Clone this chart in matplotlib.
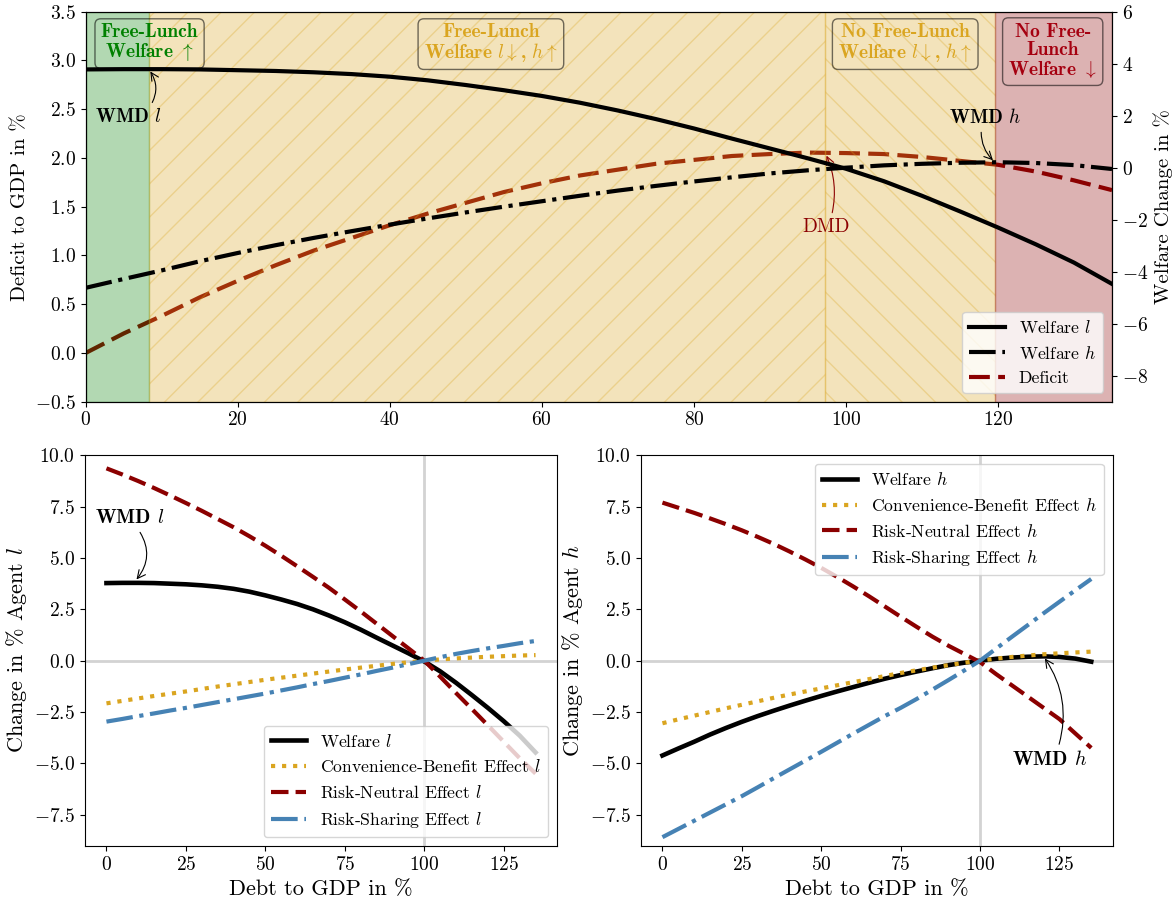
import matplotlib
matplotlib.use("Agg")
import matplotlib.pyplot as plt
from matplotlib.lines import Line2D

plt.rcParams.update({
    "font.family": "cmr10",
    "mathtext.fontset": "cm",
    "axes.formatter.use_mathtext": True,
    "font.size": 14,
    "axes.unicode_minus": True,
})

# ---------------- data ----------------
debt = [0, 5, 10, 15, 20, 25, 30, 35, 40, 45, 50, 55, 60, 65, 70, 75, 80, 85,
        90, 95, 100, 105, 110, 115, 120, 125, 130, 135]

welfare_l = [3.78, 3.79, 3.79, 3.78, 3.75, 3.72, 3.67, 3.60, 3.50, 3.36, 3.18, 2.98,
             2.76, 2.50, 2.20, 1.87, 1.51, 1.12, 0.74, 0.36, -0.04, -0.52, -1.08,
             -1.68, -2.30, -2.95, -3.65, -4.47]
welfare_h = [-4.62, -4.28, -3.95, -3.60, -3.28, -2.98, -2.70, -2.44, -2.19, -1.95,
             -1.72, -1.50, -1.29, -1.08, -0.88, -0.70, -0.53, -0.37, -0.22, -0.10,
             0.00, 0.09, 0.15, 0.19, 0.21, 0.18, 0.10, -0.05]
deficit = [0.00, 0.20, 0.38, 0.57, 0.74, 0.90, 1.05, 1.18, 1.31, 1.43, 1.54, 1.65,
           1.74, 1.82, 1.88, 1.94, 1.98, 2.02, 2.04, 2.055, 2.05, 2.04, 2.01, 1.97,
           1.93, 1.86, 1.77, 1.67]

conv_l = [-2.08, -1.96, -1.84, -1.72, -1.61, -1.50, -1.38, -1.26, -1.15, -1.04, -0.93,
          -0.83, -0.73, -0.63, -0.53, -0.43, -0.34, -0.25, -0.16, -0.08, 0.00, 0.06,
          0.11, 0.15, 0.19, 0.22, 0.25, 0.27]
rn_l = [9.37, 9.07, 8.75, 8.41, 8.05, 7.68, 7.30, 6.90, 6.50, 6.06, 5.60, 5.11, 4.60,
        4.08, 3.55, 2.98, 2.40, 1.80, 1.20, 0.60, 0.00, -0.78, -1.58, -2.36, -3.15,
        -3.95, -4.75, -5.50]
rs_l = [-2.97, -2.84, -2.70, -2.57, -2.43, -2.30, -2.16, -2.02, -1.88, -1.74, -1.60,
        -1.45, -1.30, -1.14, -0.99, -0.83, -0.67, -0.50, -0.34, -0.17, 0.00, 0.17,
        0.33, 0.47, 0.60, 0.72, 0.85, 0.96]

conv_h = [-3.05, -2.86, -2.68, -2.50, -2.32, -2.15, -1.98, -1.81, -1.65, -1.50, -1.35,
          -1.20, -1.05, -0.90, -0.75, -0.60, -0.47, -0.34, -0.22, -0.10, 0.00, 0.10,
          0.18, 0.25, 0.31, 0.36, 0.40, 0.44]
rn_h = [7.70, 7.45, 7.20, 6.93, 6.65, 6.35, 6.03, 5.69, 5.32, 4.93, 4.52, 4.08, 3.62,
        3.14, 2.64, 2.14, 1.65, 1.17, 0.73, 0.33, -0.07, -0.65, -1.20, -1.75, -2.30,
        -2.85, -3.55, -4.25]
rs_h = [-8.60, -8.20, -7.80, -7.40, -7.00, -6.60, -6.17, -5.73, -5.30, -4.87, -4.44,
        -4.00, -3.56, -3.13, -2.70, -2.30, -1.87, -1.41, -0.95, -0.48, 0.00, 0.58,
        1.16, 1.73, 2.31, 2.87, 3.43, 3.98]

wmd_l = 8.3      # welfare-maximising debt, agent l
dmd = 97.3       # deficit-maximising debt
wmd_h = 119.6    # welfare-maximising debt, agent h
debt_max = 135

# ---------------- figure ----------------
W, H = 1174, 900
fig = plt.figure(figsize=(W / 100, H / 100), dpi=100)

def rect(l, t, r, b):
    return [l / W, 1 - b / H, (r - l) / W, (b - t) / H]

ax1 = fig.add_axes(rect(85.7, 11.7, 1112, 401.7))
ax2 = ax1.twinx()

ax1.axvspan(0, wmd_l, facecolor="green", edgecolor="green", alpha=0.3, zorder=1)
ax1.axvspan(wmd_l, dmd, facecolor="goldenrod", edgecolor="goldenrod", alpha=0.3,
            hatch="/", zorder=1)
ax1.axvspan(dmd, wmd_h, facecolor="goldenrod", edgecolor="goldenrod", alpha=0.3,
            hatch="\\", zorder=1)
ax1.axvspan(wmd_h, debt_max, facecolor="darkred", edgecolor="darkred", alpha=0.3,
            zorder=1)

ax1.plot(debt, deficit, color="darkred", lw=3, ls=(0, (5, 2)), zorder=0.5)
ax2.plot(debt, welfare_l, color="black", lw=3, ls="-")
ax2.plot(debt, welfare_h, color="black", lw=3, ls="-.")

ax1.set_xlim(0, debt_max)
ax1.set_ylim(-0.5, 3.5)
ax2.set_ylim(-9, 6)
ax1.set_yticks([-0.5, 0.0, 0.5, 1.0, 1.5, 2.0, 2.5, 3.0, 3.5])
ax2.set_yticks([-8, -6, -4, -2, 0, 2, 4, 6])
ax1.set_ylabel("Deficit to GDP in %", fontsize=15)
ax2.set_ylabel("Welfare Change in %", fontsize=15)
ax1.tick_params(labelsize=14)
ax2.tick_params(labelsize=14)

handles = [Line2D([], [], color="black", lw=3, ls="-"),
           Line2D([], [], color="black", lw=3, ls="-."),
           Line2D([], [], color="darkred", lw=3, ls=(0, (5, 2)))]
ax2.legend(handles, ["Welfare $l$", "Welfare $h$", "Deficit"], loc="lower right",
           fontsize=12.7)

box = dict(boxstyle="round,pad=0.3", facecolor="none", edgecolor=(0, 0, 0, 0.55), lw=1)
lab_kw = dict(transform=ax1.get_xaxis_transform(), ha="center", va="top",
              family="cmb10", fontsize=14, linespacing=1.0, bbox=box)
ax1.text(8.4, 0.972, "Free-Lunch\nWelfare $\\uparrow$", color="green", **lab_kw)
ax1.text(53.3, 0.972, "Free-Lunch\nWelfare $l\\downarrow$, $h\\uparrow$",
         color="goldenrod", **lab_kw)
ax1.text(107.8, 0.972, "No Free-Lunch\nWelfare $l\\downarrow$, $h\\uparrow$",
         color="goldenrod", **lab_kw)
ax1.text(127.2, 0.972, "No Free-\nLunch\nWelfare $\\downarrow$", color="#a50010",
         **lab_kw)

ax2.annotate(r"$\mathbf{WMD}$ $l$", xy=(wmd_l, 3.79), xytext=(5.7, 1.96),
             ha="center", va="center", fontsize=14,
             arrowprops=dict(arrowstyle="->", color="black", lw=0.8,
                             connectionstyle="arc3,rad=0.35", relpos=(0.8, 1.0)))
ax2.annotate(r"$\mathbf{WMD}$ $h$", xy=(wmd_h, 0.21), xytext=(118.3, 1.94),
             ha="center", va="center", fontsize=14,
             arrowprops=dict(arrowstyle="->", color="black", lw=0.8,
                             connectionstyle="arc3,rad=0.25", relpos=(0.45, 0.0)))
ax1.annotate("DMD", xy=(dmd, 2.05), xytext=(97.4, 1.29), ha="center", va="center",
             fontsize=14, color="darkred",
             arrowprops=dict(arrowstyle="->", color="darkred", lw=0.8,
                             connectionstyle="arc3,rad=0.18", relpos=(0.6, 1.0)))

# ---------------- bottom panels ----------------
axl = fig.add_axes(rect(85, 455, 557, 846))
axr = fig.add_axes(rect(641, 455, 1112.7, 846))

for ax in (axl, axr):
    ax.axhline(0, color="lightgray", lw=2, zorder=0)
    ax.axvline(100, color="lightgray", lw=2, zorder=0)

axl.plot(debt, welfare_l, color="black", lw=3.3, label="Welfare $l$")
axl.plot(debt, conv_l, color="goldenrod", lw=3, ls=":", label="Convenience-Benefit Effect $l$")
axl.plot(debt, rn_l, color="darkred", lw=3, ls=(0, (4.2, 1.7)), label="Risk-Neutral Effect $l$")
axl.plot(debt, rs_l, color="steelblue", lw=3, ls="-.", label="Risk-Sharing Effect $l$")
axl.legend(loc="lower right", fontsize=12.7)

axr.plot(debt, welfare_h, color="black", lw=3.3, label="Welfare $h$")
axr.plot(debt, conv_h, color="goldenrod", lw=3, ls=":", label="Convenience-Benefit Effect $h$")
axr.plot(debt, rn_h, color="darkred", lw=3, ls=(0, (4.2, 1.7)), label="Risk-Neutral Effect $h$")
axr.plot(debt, rs_h, color="steelblue", lw=3, ls="-.", label="Risk-Sharing Effect $h$")
axr.legend(loc="upper right", fontsize=12.7)

for ax in (axl, axr):
    ax.set_ylim(-9.03, 10.02)
    ax.set_yticks([-7.5, -5.0, -2.5, 0.0, 2.5, 5.0, 7.5, 10.0])
    ax.set_xticks([0, 25, 50, 75, 100, 125])
    ax.set_xlabel("Debt to GDP in %", fontsize=16)
    ax.tick_params(labelsize=14)
axl.set_ylabel("Change in % Agent $l$", fontsize=16)
axr.set_ylabel("Change in % Agent $h$", fontsize=16)

axl.annotate(r"$\mathbf{WMD}$ $l$", xy=(8.9, 3.85), xytext=(7.3, 6.94),
             ha="center", va="center", fontsize=14.5,
             arrowprops=dict(arrowstyle="->", color="black", lw=0.8,
                             connectionstyle="arc3,rad=-0.4", relpos=(0.6, 0.0)))
axr.annotate(r"$\mathbf{WMD}$ $h$", xy=(119.9, 0.22), xytext=(122, -4.8),
             ha="center", va="center", fontsize=14.5,
             arrowprops=dict(arrowstyle="->", color="black", lw=0.8,
                             connectionstyle="arc3,rad=0.25", relpos=(0.6, 1.0)))

fig.savefig("out.png", dpi=100)
